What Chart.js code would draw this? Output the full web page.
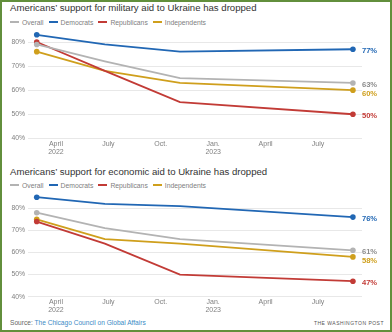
<!DOCTYPE html>
<html>
<head>
<meta charset="utf-8">
<script src="https://cdn.jsdelivr.net/npm/chart.js@4.4.0/dist/chart.umd.min.js"></script>
<style>
  body { margin: 0; width: 392px; height: 332px; position: relative; background: #fff; overflow: hidden; font-family: "Liberation Sans", Arial, sans-serif; }
  .frame { position: absolute; left: 0; top: 0; width: 392px; height: 332px; box-sizing: border-box; border: 2px solid #628f3c; pointer-events: none; }
  .title { position: absolute; left: 10px; font-size: 9.6px; color: #333; white-space: nowrap; line-height: 12px; }
  .legend { position: absolute; left: 10px; font-size: 6.8px; color: #808080; white-space: nowrap; line-height: 9px; }
  .legend .sw { display: inline-block; width: 9px; height: 2px; vertical-align: middle; margin-right: 3px; position: relative; top: -1px; }
  .legend .item { margin-right: 5px; color: #808080; }
  canvas { position: absolute; left: 0; }
  .source { position: absolute; left: 10px; top: 319px; font-size: 6.6px; color: #666; white-space: nowrap; }
  .source span { color: #3a8bc6; }
  .wapo { position: absolute; right: 8px; top: 320px; font-size: 5px; letter-spacing: 0.5px; color: #555; white-space: nowrap; }
</style>
</head>
<body>
<div class="title" style="top:2px">Americans’ support for military aid to Ukraine has dropped</div>
<div class="legend" id="legend1" style="top:18px"></div>
<canvas id="chart1" width="392" height="160" style="top:0"></canvas>

<div class="title" style="top:166px">Americans’ support for economic aid to Ukraine has dropped</div>
<div class="legend" id="legend2" style="top:181px"></div>
<canvas id="chart2" width="392" height="158" style="top:160px"></canvas>

<div class="source">Source: <span>The Chicago Council on Global Affairs</span></div>
<div class="wapo">THE WASHINGTON POST</div>
<div class="frame"></div>

<script>
// Meses desde enero 2022 (0 = ene. 2022) de cada encuesta
const surveyMonths = [1.9, 5.8, 10.1, 20.0];
const seriesNames = ["Overall", "Democrats", "Republicans", "Independents"];
const seriesColors = ["#b3b3b3", "#2167b4", "#c23b36", "#cf9f1c"];

// Ayuda militar
const militaryOverall = [79, 72, 65, 63];
const militaryDemocrats = [83, 79, 76, 77];
const militaryRepublicans = [80, 68, 55, 50];
const militaryIndependents = [76, 68, 63, 60];

// Ayuda económica
const economicOverall = [78, 71, 66, 61];
const economicDemocrats = [85, 82, 81, 76];
const economicRepublicans = [74, 64, 50, 47];
const economicIndependents = [75, 66, 64, 58];

const tickMonths = [3, 6, 9, 12, 15, 18];
const tickLabels = [["April", "2022"], ["July"], ["Oct."], ["Jan.", "2023"], ["April"], ["July"]];
const yTicks = [40, 50, 60, 70, 80];

// Leyenda en HTML
const buildLegend = (id) => {
    let html = "";
    seriesNames.forEach((name, i) => {
        html += `<span class="item"><span class="sw" style="background:${seriesColors[i]}"></span>${name}</span>`;
    });
    document.querySelector(id).innerHTML = html;
};

// Etiquetas de valor al final de cada línea
const endLabels = {
    id: "endLabels",
    afterDatasetsDraw(chart) {
        const ctx = chart.ctx;
        const items = chart.data.datasets.map((ds, i) => {
            const meta = chart.getDatasetMeta(i);
            const pt = meta.data[meta.data.length - 1];
            return { x: pt.x, y: pt.y + 1.5, text: ds.data[ds.data.length - 1].y + "%", color: i === 0 ? "#8c8c8c" : ds.borderColor };
        }).sort((a, b) => a.y - b.y);
        for (let i = 1; i < items.length; i++) {
            if (items[i].y - items[i - 1].y < 9) items[i].y = items[i - 1].y + 9;
        }
        ctx.save();
        ctx.font = "bold 7.6px 'Liberation Sans', Arial, sans-serif";
        ctx.textBaseline = "middle";
        items.forEach((it) => {
            ctx.fillStyle = it.color;
            ctx.fillText(it.text, it.x + 9, it.y);
        });
        ctx.restore();
    }
};

const makeDatasets = (values) => values.map((vals, i) => ({
    label: seriesNames[i],
    data: vals.map((v, j) => ({ x: surveyMonths[j], y: v })),
    borderColor: seriesColors[i],
    backgroundColor: seriesColors[i],
    borderWidth: 1.8,
    pointRadius: vals.map((v, j) => (j === 0 || j === vals.length - 1 ? 2.8 : 0)),
    pointBorderWidth: 0,
    tension: 0,
    clip: false
}));

const renderChart = (canvasId, values, yMax, padTop, xHeight) => {
    new Chart(document.querySelector(canvasId), {
        type: "line",
        data: { datasets: makeDatasets(values) },
        plugins: [endLabels],
        options: {
            responsive: false,
            animation: false,
            layout: { padding: { top: padTop, right: 30, left: 0, bottom: 0 } },
            plugins: { legend: { display: false }, tooltip: { enabled: false } },
            scales: {
                x: {
                    type: "linear",
                    min: 1.4,
                    max: 20.52,
                    grid: { display: false, drawTicks: false },
                    border: { display: false },
                    afterBuildTicks: (scale) => { scale.ticks = tickMonths.map((v) => ({ value: v })); },
                    afterFit: (scale) => { scale.height = xHeight; },
                    ticks: {
                        maxRotation: 0,
                        autoSkip: false,
                        padding: 2,
                        color: "#808080",
                        font: { size: 7, family: "'Liberation Sans', Arial, sans-serif", lineHeight: 1.1 },
                        callback: (v) => tickLabels[tickMonths.indexOf(v)]
                    }
                },
                y: {
                    min: 40,
                    max: yMax,
                    grid: { color: "#e8e8e8", drawTicks: false, lineWidth: 1 },
                    border: { display: false },
                    afterBuildTicks: (scale) => { scale.ticks = yTicks.map((v) => ({ value: v })); },
                    afterFit: (scale) => { scale.width = 28; },
                    ticks: {
                        padding: 3,
                        color: "#808080",
                        font: { size: 6.8, family: "'Liberation Sans', Arial, sans-serif" },
                        callback: (v) => v + "%"
                    }
                }
            }
        }
    });
};

buildLegend("#legend1");
buildLegend("#legend2");
renderChart("#chart1",
    [militaryOverall, militaryDemocrats, militaryRepublicans, militaryIndependents],
    85, 30, 21.7);
renderChart("#chart2",
    [economicOverall, economicDemocrats, economicRepublicans, economicIndependents],
    87, 32.8, 21.3);
</script>
</body>
</html>
